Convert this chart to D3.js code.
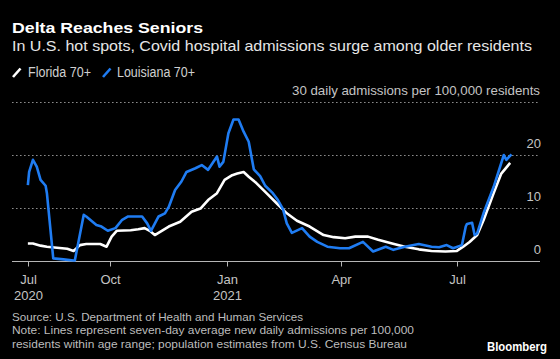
<!DOCTYPE html>
<html><head><meta charset="utf-8">
<script src="https://cdn.jsdelivr.net/npm/d3@7"></script>
<style>
body{margin:0;background:#000;}
svg{display:block;font-family:"Liberation Sans",Arial,sans-serif;}
</style>
</head><body>
<svg id="chart" width="560" height="359"></svg>
<script>
// ---------- DATA ----------
const seriesNames = ["Florida 70+", "Louisiana 70+"];

const floridaDates = ["2020-07-28","2020-08-01","2020-08-07","2020-08-12","2020-08-20","2020-08-28","2020-09-02","2020-09-07","2020-09-12","2020-09-23","2020-09-28","2020-10-02","2020-10-06","2020-10-17","2020-10-23","2020-10-28","2020-11-01","2020-11-05","2020-11-16","2020-11-25","2020-12-04","2020-12-11","2020-12-17","2020-12-24","2020-12-30","2021-01-05","2021-01-09","2021-01-14","2021-01-18","2021-01-24","2021-02-01","2021-02-09","2021-02-17","2021-02-25","2021-03-07","2021-03-18","2021-03-26","2021-04-04","2021-04-12","2021-04-22","2021-04-30","2021-05-11","2021-05-21","2021-06-01","2021-06-11","2021-06-22","2021-07-01","2021-07-06","2021-07-11","2021-07-17","2021-07-22","2021-07-30","2021-08-05","2021-08-12"];
const floridaValues = [3.3,3.3,2.9,2.7,2.5,2.3,1.9,3.0,3.2,3.2,2.7,4.6,5.7,5.8,6.0,6.2,5.7,4.9,6.5,7.4,9.3,9.9,11.5,12.8,15.3,16.2,16.5,16.8,15.9,14.7,12.8,10.9,9.0,7.6,6.5,4.9,4.5,4.3,4.6,4.6,4.0,3.3,2.7,2.2,1.9,1.8,1.9,2.7,3.6,4.9,7.7,12.8,16.5,18.5];

const louisianaDates = ["2020-07-28","2020-07-29","2020-08-01","2020-08-04","2020-08-07","2020-08-11","2020-08-12","2020-08-17","2020-08-25","2020-09-02","2020-09-03","2020-09-10","2020-09-12","2020-09-20","2020-09-24","2020-09-29","2020-10-05","2020-10-10","2020-10-15","2020-10-19","2020-10-26","2020-10-30","2020-11-02","2020-11-08","2020-11-13","2020-11-16","2020-11-21","2020-11-26","2020-11-30","2020-12-07","2020-12-12","2020-12-17","2020-12-24","2020-12-26","2020-12-29","2021-01-02","2021-01-06","2021-01-10","2021-01-14","2021-01-18","2021-01-22","2021-01-27","2021-01-31","2021-02-06","2021-02-10","2021-02-14","2021-02-17","2021-02-21","2021-03-01","2021-03-07","2021-03-13","2021-03-21","2021-03-31","2021-04-07","2021-04-18","2021-04-26","2021-05-06","2021-05-12","2021-05-21","2021-06-01","2021-06-11","2021-06-17","2021-06-23","2021-06-28","2021-07-05","2021-07-08","2021-07-09","2021-07-13","2021-07-15","2021-07-17","2021-07-22","2021-07-30","2021-08-07","2021-08-09","2021-08-13"];
const louisianaValues = [14.3,16.8,19.1,17.8,15.3,14.2,12.8,0.5,0.3,0.1,0.1,8.7,8.4,6.8,6.5,5.7,6.2,7.7,8.4,8.4,8.4,7.1,5.7,8.4,9.0,10.2,13.4,15.0,16.8,17.5,18.1,17.2,19.7,17.8,18.7,24.1,26.7,26.7,24.4,22.5,17.3,16.0,14.2,12.8,11.5,9.8,7.1,5.3,6.2,4.6,3.6,2.7,2.4,2.4,3.6,1.8,2.7,2.1,2.7,3.2,2.7,2.6,3.0,2.4,3.0,6.5,7.0,7.2,4.9,5.2,9.0,14.0,20.0,19.1,20.1];

const yTickValues = [0, 10, 20, 30];
const yTopLabel = "30 daily admissions per 100,000 residents";
const xTickDates = ["2020-07-28","2020-10-01","2021-01-01","2021-04-01","2021-07-01"];
const xTickLabels = [["Jul","2020"],["Oct"],["Jan","2021"],["Apr"],["Jul"]];

const titleText = "Delta Reaches Seniors";
const subtitleText = "In U.S. hot spots, Covid hospital admissions surge among older residents";
const footerLines = [
  "Source: U.S. Department of Health and Human Services",
  "Note: Lines represent seven-day average new daily admissions per 100,000",
  "residents within age range; population estimates from U.S. Census Bureau"
];

// ---------- SETUP ----------
const parse = d3.timeParse("%Y-%m-%d");
const colors = ["#ffffff", "#1f7cf2"];
const svg = d3.select("#chart");
svg.append("rect").attr("width",560).attr("height",359).attr("fill","#000");

const x = d3.scaleTime()
  .domain([new Date(2020,6,15,12), new Date(2021,8,4,12)])
  .range([12, 540]);
const y = d3.scaleLinear().domain([0, 30]).range([261, 102]);

function fit(sel, w){
  const n = sel.node();
  const L = n.getComputedTextLength();
  if (Math.abs(L - w) > 1) sel.attr("textLength", w).attr("lengthAdjust","spacingAndGlyphs");
  return sel;
}

// Title & subtitle
fit(svg.append("text").attr("x",12).attr("y",32.5).attr("fill","#fff")
  .attr("font-size",15.5).attr("font-weight",700).text(titleText), 191);
fit(svg.append("text").attr("x",12).attr("y",50.5).attr("fill","#e6e6e6")
  .attr("font-size",15).text(subtitleText), 520);

// Legend
const legendItems = [
  {name: seriesNames[0], color: colors[0], sx: 13, tx: 28, tw: 63},
  {name: seriesNames[1], color: colors[1], sx: 103, tx: 117, tw: 78}
];
legendItems.forEach(it => {
  svg.append("line").attr("x1",it.sx).attr("y1",77).attr("x2",it.sx+7.5).attr("y2",68.5)
    .attr("stroke",it.color).attr("stroke-width",2.6).attr("stroke-linecap","butt");
  fit(svg.append("text").attr("x",it.tx).attr("y",76.7).attr("fill","#d0d0d0")
    .attr("font-size",14).text(it.name), it.tw);
});

// Grid lines
svg.append("g").selectAll("line").data(yTickValues.filter(v => v > 0)).join("line")
  .attr("x1",12).attr("x2",540)
  .attr("y1",d => y(d)+0.5).attr("y2",d => y(d)+0.5)
  .attr("stroke","#8a8a8a").attr("stroke-width",1).attr("stroke-dasharray","1.6,2.4");

// Y labels
svg.append("g").selectAll("text").data(yTickValues.filter(v => v < 30)).join("text")
  .attr("x",541).attr("y",d => y(d)-7.5).attr("text-anchor","end")
  .attr("fill","#c4c4c4").attr("font-size",13).text(d => d);
fit(svg.append("text").attr("x",292).attr("y",y(30)-7.5)
  .attr("fill","#c4c4c4").attr("font-size",13).text(yTopLabel), 248);

// Baseline + x axis
svg.append("line").attr("x1",12).attr("x2",540).attr("y1",y(0)+0.5).attr("y2",y(0)+0.5)
  .attr("stroke","#b5b5b5").attr("stroke-width",1);
const ticks = xTickDates.map((d,i) => ({date: parse(d), lines: xTickLabels[i]}));
const tg = svg.append("g").selectAll("g").data(ticks).join("g")
  .attr("transform", d => `translate(${Math.round(x(d.date))+0.5},0)`);
tg.append("line").attr("y1",y(0)).attr("y2",y(0)+5.5).attr("stroke","#b5b5b5");
tg.each(function(d){
  d.lines.forEach((t,j) => {
    d3.select(this).append("text").attr("y", 283.5 + j*16).attr("text-anchor","middle")
      .attr("fill","#c4c4c4").attr("font-size",13).text(t);
  });
});

// Lines
const fl = floridaDates.map((d,i) => ({date: parse(d), value: floridaValues[i]}));
const la = louisianaDates.map((d,i) => ({date: parse(d), value: louisianaValues[i]}));
const line = d3.line().x(d => x(d.date)).y(d => y(d.value));
[fl, la].forEach((s,i) => {
  svg.append("path").datum(s).attr("d", line).attr("fill","none")
    .attr("stroke", colors[i]).attr("stroke-width",2.6)
    .attr("stroke-linejoin","round").attr("stroke-linecap","butt");
});

// Footer
const fw = [291, 402, 395];
footerLines.forEach((t,i) => {
  fit(svg.append("text").attr("x",12).attr("y",321 + i*13.3).attr("fill","#bdbdbd")
    .attr("font-size",11.8).text(t), fw[i]);
});
fit(svg.append("text").attr("x",547).attr("y",350.5).attr("text-anchor","end")
  .attr("fill","#ffffff").attr("font-size",12.5).attr("font-weight",700)
  .text("Bloomberg"), 60);
</script>
</body></html>
